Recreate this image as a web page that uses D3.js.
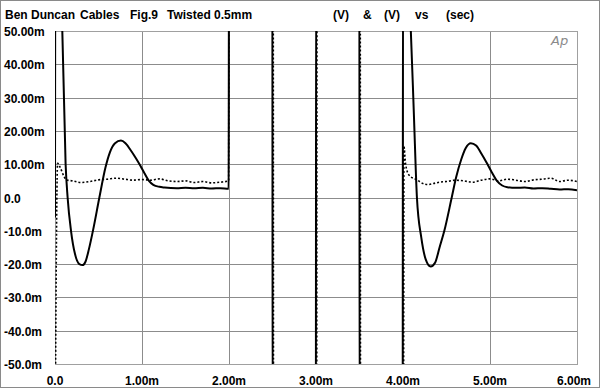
<!DOCTYPE html>
<html><head><meta charset="utf-8">
<script src="https://cdn.jsdelivr.net/npm/d3@7"></script>
<style>html,body{margin:0;padding:0;background:#fff}svg{display:block}</style>
</head><body>
<svg id="c" width="600" height="388"></svg>
<script>
// ---- data (time in ms, voltage in mV) ----
const titleParts = [["Ben Duncan",5],["Cables",80],["Fig.9",130],["Twisted 0.5mm",167],["(V)",333],["&",363],["(V)",384],["vs",415],["(sec)",446]];
const xTicks = [0,1,2,3,4,5,6];
const xTickLabels = ["0.0","1.00m","2.00m","3.00m","4.00m","5.00m","6.00m"];
const yTicks = [50,40,30,20,10,0,-10,-20,-30,-40,-50];
const yTickLabels = ["50.00m","40.00m","30.00m","20.00m","10.00m","0.0","-10.0m","-20.0m","-30.0m","-40.0m","-50.0m"];

const solidT = [0,0.004,0.06,0.084,0.122,0.145,0.184,0.23,0.28,0.318,0.35,0.39,0.44,0.51,0.58,0.63,0.69,0.758,0.81,0.87,0.93,0.98,1.03,1.08,1.13,1.2,1.26,1.4,1.5,1.6,1.7,1.8,1.9,1.996,
  2.0,2.498,2.502,2.998,3.002,3.498,3.502,3.996,4.0,4.07,4.09,4.125,4.16,4.21,4.26,4.318,4.37,4.42,4.475,4.56,4.61,4.67,4.72,4.78,4.84,4.9,4.96,5.02,5.08,5.14,5.2,5.3,5.4,5.5,5.6,5.7,5.8,5.9,6.0];
const solidV = [-6,80,60,50,10,0,-10,-17,-20,-20.3,-19.3,-15.5,-9.5,0,9,13.5,16.3,17.1,16.3,14.2,11.8,9.6,7.2,5.0,3.8,3.2,3.0,2.8,2.9,2.8,2.9,2.7,2.8,2.6,
  80,80,-80,-80,80,80,-80,-80,80,60,50,25,0,-12,-18.5,-20.7,-19.5,-15,-10,0,6,11.5,14.8,16.3,15.6,13.2,10.5,7.6,5.0,3.6,3.1,2.9,3.0,2.7,2.8,2.6,2.4,2.5,2.2];

const dotT = [0,0.03,0.06,0.1,0.13,0.2,0.3,0.4,0.5,0.6,0.7,0.8,0.9,1.0,1.1,1.2,1.3,1.4,1.5,1.6,1.7,1.8,1.9,1.996,
  2.0,2.508,2.512,3.008,3.012,3.508,3.512,4.006,4.01,4.03,4.07,4.16,4.25,4.29,4.35,4.42,4.5,4.6,4.7,4.8,4.9,5.0,5.1,5.2,5.3,5.4,5.5,5.6,5.7,5.8,5.9,6.0];
const dotV = [-80,10.3,9,6.5,5.3,5.0,4.5,4.8,5.3,5.5,5.8,5.5,5.2,5.4,5.2,5.6,5.0,4.8,5.0,4.5,4.8,4.4,4.6,5.0,
  80,80,-80,-80,80,80,-80,-80,15.5,10,6.7,5.3,4.0,3.9,4.2,4.6,4.8,5.2,5.0,4.6,5.2,5.6,5.0,5.5,5.2,4.8,5.3,5.5,5.8,4.8,5.2,4.8];

// ---- layout ----
const L = 55, R = 577, T = 31, B = 364;
const svg = d3.select("#c");
const x = d3.scaleLinear().domain([0,6]).range([L,R]);
const y = d3.scaleLinear().domain([-50,50]).range([B,T]);
const font = "'Liberation Sans', Arial, Helvetica, sans-serif";

svg.append("rect").attr("x",0.5).attr("y",0.5).attr("width",599).attr("height",387)
  .attr("fill","#fff").attr("stroke","#8a8a8a");

// grid
const g = svg.append("g");
g.selectAll("line.v").data(xTicks).join("line")
  .attr("x1",d=>Math.round(x(d))+0.5).attr("x2",d=>Math.round(x(d))+0.5)
  .attr("y1",T).attr("y2",B).attr("stroke","#8c8c8c").attr("stroke-width",1);
g.selectAll("line.h").data(yTicks).join("line")
  .attr("y1",d=>Math.round(y(d))+0.5).attr("y2",d=>Math.round(y(d))+0.5)
  .attr("x1",L).attr("x2",R).attr("stroke","#8c8c8c").attr("stroke-width",1);
svg.append("rect").attr("x",L+0.5).attr("y",T+0.5).attr("width",R-L).attr("height",B-T)
  .attr("fill","none").attr("stroke","#a0a0a0");

// labels
svg.selectAll("text.y").data(yTicks).join("text")
  .attr("x",4).attr("y",d=>y(d)+5)
  .attr("font-family",font).attr("font-weight","bold").attr("font-size",12).attr("fill","#000")
  .text((d,i)=>yTickLabels[i]);
svg.selectAll("text.x").data(xTicks).join("text")
  .attr("x",(d,i)=>x(d)+(i===6?-3:0)).attr("y",385).attr("text-anchor","middle")
  .attr("font-family",font).attr("font-weight","bold").attr("font-size",12).attr("fill","#000")
  .text((d,i)=>xTickLabels[i]);
svg.selectAll("text.t").data(titleParts).join("text")
  .attr("x",d=>d[1]).attr("y",19)
  .attr("font-family",font).attr("font-weight","bold").attr("font-size",12).attr("fill","#000")
  .text(d=>d[0]);

// Ap logo
svg.append("text").attr("x",551).attr("y",45).attr("font-family","'DejaVu Sans', sans-serif")
  .attr("font-style","italic").attr("font-weight",200).attr("font-size",13).attr("fill","#8a8a8a")
  .text("Ap");

// traces
svg.append("clipPath").attr("id","pc").append("rect").attr("x",L).attr("y",T).attr("width",R-L).attr("height",B-T);
const line = d3.line().x(d=>x(d[0])).y(d=>y(d[1])).curve(d3.curveMonotoneX);
const solid = solidT.map((t,i)=>[t,solidV[i]]);
const dot = dotT.map((t,i)=>[t,dotV[i]]);
const tr = svg.append("g").attr("clip-path","url(#pc)");
tr.append("path").attr("d",line(dot)).attr("fill","none").attr("stroke","#000")
  .attr("stroke-width",1.6).attr("stroke-dasharray","2,2");
tr.append("path").attr("d",line(solid)).attr("fill","none").attr("stroke","#000")
  .attr("stroke-width",2).attr("stroke-linejoin","round");
</script>
</body></html>
